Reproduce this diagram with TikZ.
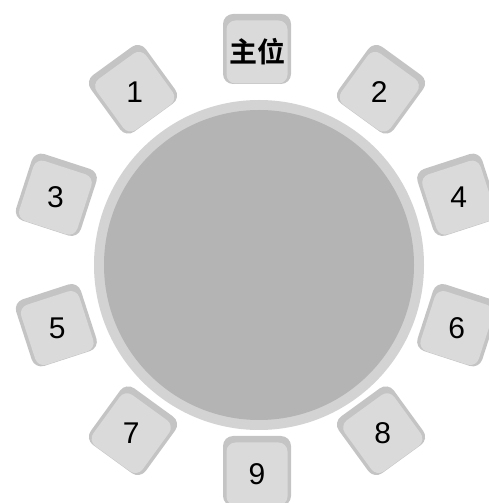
\documentclass[tikz,border=0pt]{standalone}
\usepackage{fontspec}
\setmainfont{Liberation Sans}
\newfontfamily\cjkfont{Noto Sans CJK SC}[BoldFont={Noto Sans CJK SC Bold}]
\usetikzlibrary{positioning,calc}

\definecolor{ringgray}{HTML}{D3D3D3}
\definecolor{tablegray}{HTML}{B4B4B4}
\definecolor{edgegray}{HTML}{C4C4C4}
\definecolor{facegray}{HTML}{DADADA}

\begin{document}
\begin{tikzpicture}[
    x=1pt, y=1pt,
    seatback/.style={rectangle, rounded corners=10pt, fill=edgegray, minimum width=68pt, minimum height=70pt, inner sep=0pt},
    seatface/.style={rectangle, rounded corners=9pt, fill=facegray, minimum width=61pt, minimum height=63pt, inner sep=0pt},
    seatlabel/.style={font=\fontsize{30}{30}\selectfont, text=black}
]
\useasboundingbox (0,0) rectangle (488,503);

% Table
\coordinate (center) at (259,238);
\coordinate (seatring) at (257,243);
\node[circle, fill=ringgray, minimum size=330pt, inner sep=0pt] (ring) at (center) {};
\node[circle, fill=tablegray, minimum size=310pt, inner sep=0pt] (table) at (center) {};

% Seats
\foreach \a/\lbl/\r [count=\i] in {90/{\fontsize{28}{28}\selectfont\cjkfont\bfseries 主位}/0, 126/1/36, 54/2/-36, 162/3/-18, 18/4/18, 198/5/18, 342/6/-18, 234/7/-36, 306/8/36, 270/9/0} {
    \node[seatback, rotate=\r] (back-\i) at ($(seatring)+(\a:211)$) {};
    \node[seatface, rotate=\r] (seat-\i) at ($(back-\i.center)+(\r-90:3)$) {};
    \node[seatlabel] (label-\i) at (seat-\i) {\lbl};
}

\end{tikzpicture}
\end{document}
